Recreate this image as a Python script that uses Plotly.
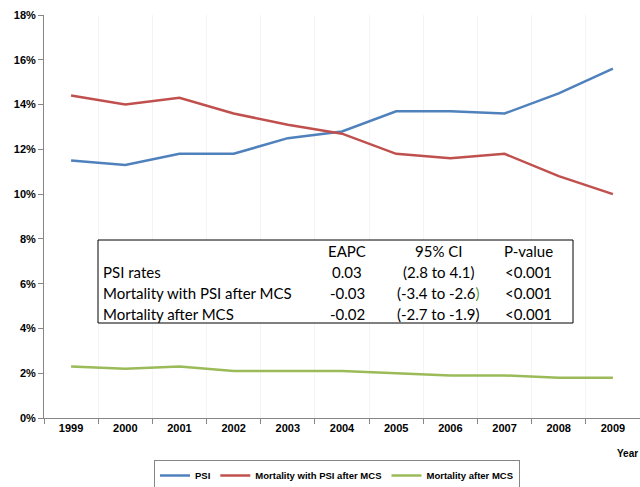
import plotly.graph_objects as go

years = [1999, 2000, 2001, 2002, 2003, 2004, 2005, 2006, 2007, 2008, 2009]
psi = [11.5, 11.3, 11.8, 11.8, 12.5, 12.8, 13.7, 13.7, 13.6, 14.5, 15.6]
mort_psi = [14.4, 14.0, 14.3, 13.6, 13.1, 12.7, 11.8, 11.6, 11.8, 10.8, 10.0]
mort_mcs = [2.3, 2.2, 2.3, 2.1, 2.1, 2.1, 2.0, 1.9, 1.9, 1.8, 1.8]
series_names = ["PSI", "Mortality with PSI after MCS", "Mortality after MCS"]

table_header = ["", "EAPC", "95% CI", "P-value"]
table_rows = [
    ["PSI rates", "0.03", "(2.8 to 4.1)", "<0.001"],
    ["Mortality with PSI after MCS", "-0.03", "(-3.4 to -2.6<span style='color:#5a9a3a'>)</span>", "<0.001"],
    ["Mortality after MCS", "-0.02", "(-2.7 to -1.9)", "<0.001"],
]

W, H = 640, 487
L, R, T, B = 44, 0, 15, 69
pw, ph = W - L - R, H - T - B

def px(x):
    return (x - L) / pw

def py(y):
    return (H - B - y) / ph

fig = go.Figure()
for name, vals, col in zip(series_names, [psi, mort_psi, mort_mcs],
                           ["#4F81BD", "#C0504D", "#9BBB59"]):
    fig.add_trace(go.Scatter(x=years, y=vals, mode="lines", name=f"<b>{name}</b>",
                             line=dict(color=col, width=2.5)))

fig.add_shape(type="rect", xref="paper", yref="paper",
              x0=px(98), x1=px(573), y0=py(323), y1=py(240),
              line=dict(color="black", width=1), fillcolor="white", layer="above")

tfont = dict(family="Lato, Open Sans, sans-serif", size=15, color="black")
col_x = [px(101), px(347), px(438), px(528)]
row_y = [py(251), py(272), py(293), py(314)]
for j, h in enumerate(table_header):
    if h:
        fig.add_annotation(x=col_x[j], y=row_y[0], xref="paper", yref="paper", text=h,
                           showarrow=False, xanchor="center", yanchor="middle", font=tfont)
for i, row in enumerate(table_rows):
    for j, cell in enumerate(row):
        fig.add_annotation(x=col_x[j], y=row_y[i + 1], xref="paper", yref="paper", text=cell,
                           showarrow=False, xanchor="left" if j == 0 else "center",
                           yanchor="middle", font=tfont)

fig.add_annotation(x=px(627), y=py(453), xref="paper", yref="paper", text="<b>Year</b>",
                   showarrow=False, xanchor="center", yanchor="middle",
                   font=dict(family="Arial, Liberation Sans", size=10, color="black"))

axfont = dict(family="Arial, Liberation Sans", size=11, color="black")
fig.update_xaxes(range=[1998.5, 2009.5], tickvals=years, ticktext=[f"<b>{y}</b>" for y in years],
                 ticks="", showgrid=False, zeroline=False, showline=True,
                 linecolor="#868686", linewidth=1, tickfont=axfont,
                 minor=dict(tick0=1998.5, dtick=1, ticks="outside", ticklen=5,
                            tickcolor="#868686", showgrid=True, gridcolor="#F4F4F4", gridwidth=1))
fig.update_yaxes(range=[0, 18], tickvals=list(range(0, 19, 2)),
                 ticktext=[f"<b>{v}%</b>" for v in range(0, 19, 2)],
                 ticks="outside", ticklen=5, tickcolor="#868686", showgrid=False,
                 zeroline=False, showline=True, linecolor="#868686", linewidth=1, tickfont=axfont)

fig.update_layout(
    width=W, height=H, margin=dict(l=L, r=R, t=T, b=B, autoexpand=False),
    plot_bgcolor="white", paper_bgcolor="white",
    showlegend=True,
    legend=dict(orientation="h", x=px(337), xanchor="center", y=py(460), yanchor="top",
                bordercolor="#868686", borderwidth=1, bgcolor="white",
                font=dict(family="Arial, Liberation Sans", size=9.5, color="black"),
                tracegroupgap=0),
)
fig.write_html("out.html", config={"displayModeBar": False},
               post_script="document.body.style.margin='0';")
